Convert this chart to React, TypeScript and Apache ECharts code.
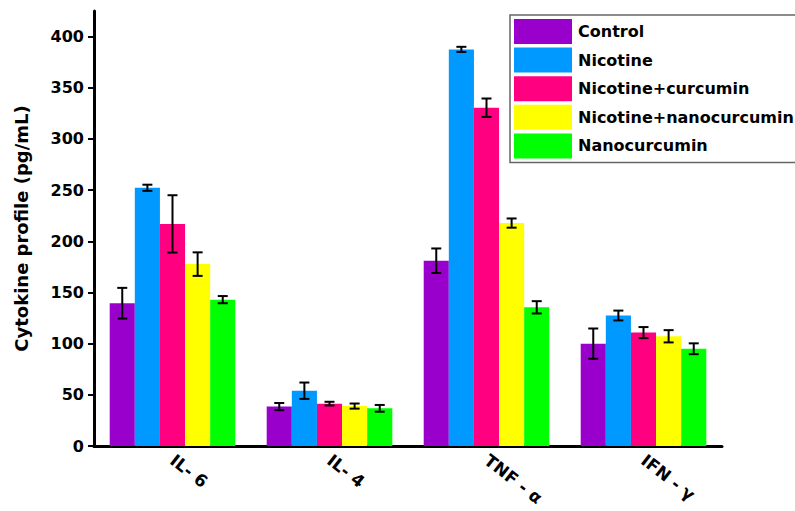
import React, { useEffect, useRef } from "react";
import * as echarts from "echarts";

const categories = ["IL- 6", "IL- 4", "TNF - α", "IFN - γ"];
const seriesNames = ["Control", "Nicotine", "Nicotine+curcumin", "Nicotine+nanocurcumin", "Nanocurcumin"];
const colors = ["#9900CC", "#0099FF", "#FF0080", "#FFFF00", "#00FF00"];

const control = [139.5, 38.5, 181, 100];
const controlErr = [15, 3.5, 12, 14.8];
const nicotine = [252.3, 54, 387.5, 127.5];
const nicotineErr = [3, 8, 2.5, 4.8];
const nicotineCurcumin = [217, 41.4, 330.5, 110.8];
const nicotineCurcuminErr = [28, 1.8, 9, 5.4];
const nicotineNanocurcumin = [177.7, 39, 217.8, 107.2];
const nicotineNanocurcuminErr = [11.5, 2.5, 4.5, 6];
const nanocurcumin = [143, 36.8, 135.5, 95];
const nanocurcuminErr = [3.5, 3.3, 6, 5.3];

const yTicks = [0, 50, 100, 150, 200, 250, 300, 350, 400];

const values = [control, nicotine, nicotineCurcumin, nicotineNanocurcumin, nanocurcumin];
const errors = [controlErr, nicotineErr, nicotineCurcuminErr, nicotineNanocurcuminErr, nanocurcuminErr];

const FONT = "DejaVu Sans";

export default function App() {
  const ref = useRef<HTMLDivElement>(null);
  useEffect(() => {
    if (!ref.current) return;
    const chart = echarts.init(ref.current, null, { renderer: "svg" });
    const nSeries = seriesNames.length;
    const barSeries = seriesNames.map((name, i) => ({
      name,
      type: "bar",
      data: values[i],
      barGap: "0%",
      barCategoryGap: "20%",
      itemStyle: { color: colors[i] },
      z: 2,
    }));
    const errSeries = seriesNames.map((name, i) => ({
      name: name + "-err",
      type: "custom",
      z: 5,
      data: categories.map((_, k) => [k, values[i][k], errors[i][k]]),
      encode: { x: 0, y: 1 },
      renderItem: (params: any, api: any) => {
        const x = api.value(0);
        const v = api.value(1);
        const e = api.value(2);
        const c = api.coord([x, v]);
        const band = api.size([1, 0])[0];
        const bw = (band * 0.8) / nSeries;
        const cx = c[0] + (i - (nSeries - 1) / 2) * bw;
        const top = api.coord([x, v + e])[1];
        const bot = api.coord([x, v - e])[1];
        const hw = 5;
        const style = { stroke: "#000", lineWidth: 2 };
        return {
          type: "group",
          children: [
            { type: "line", shape: { x1: cx, y1: top, x2: cx, y2: bot }, style },
            { type: "line", shape: { x1: cx - hw, y1: top, x2: cx + hw, y2: top }, style },
            { type: "line", shape: { x1: cx - hw, y1: bot, x2: cx + hw, y2: bot }, style },
          ],
        };
      },
    }));
    chart.setOption({
      animation: false,
      backgroundColor: "#fff",
      textStyle: { fontFamily: FONT },
      grid: { left: 94, right: 73, top: 11, bottom: 65, containLabel: false },
      legend: {
        data: seriesNames,
        orient: "vertical",
        left: 510,
        top: 15,
        itemWidth: 58,
        itemHeight: 25,
        itemGap: 3.6,
        icon: "rect",
        padding: [4, 2, 4, 4],
        borderColor: "#666",
        borderWidth: 1.5,
        textStyle: { fontFamily: FONT, fontWeight: "bold", fontSize: 16, color: "#000", padding: [0, 0, 0, 1] },
      },
      xAxis: {
        type: "category",
        data: categories,
        axisLine: { lineStyle: { color: "#000", width: 3 } },
        axisTick: { alignWithLabel: true, length: 6, lineStyle: { color: "#000", width: 2 } },
        axisLabel: {
          rotate: -38,
          margin: 12,
          fontFamily: FONT,
          fontWeight: "bold",
          fontSize: 17,
          color: "#000",
        },
      },
      yAxis: {
        type: "value",
        min: 0,
        max: 425,
        interval: 50,
        name: "Cytokine profile (pg/mL)",
        nameLocation: "middle",
        nameGap: 64,
        nameTextStyle: { fontFamily: FONT, fontWeight: "bold", fontSize: 18, color: "#000" },
        splitLine: { show: false },
        axisLine: { show: true, lineStyle: { color: "#000", width: 3 } },
        axisTick: { show: true, length: 6, lineStyle: { color: "#000", width: 2 }, customValues: yTicks },
        axisLabel: {
          fontFamily: FONT,
          fontWeight: "bold",
          fontSize: 16,
          color: "#000",
          margin: 10,
          customValues: yTicks,
        },
      },
      series: [...barSeries, ...errSeries],
    });
    return () => chart.dispose();
  }, []);
  return <div ref={ref} style={{ width: 795, height: 511, position: "absolute", left: 0, top: 0 }} />;
}
